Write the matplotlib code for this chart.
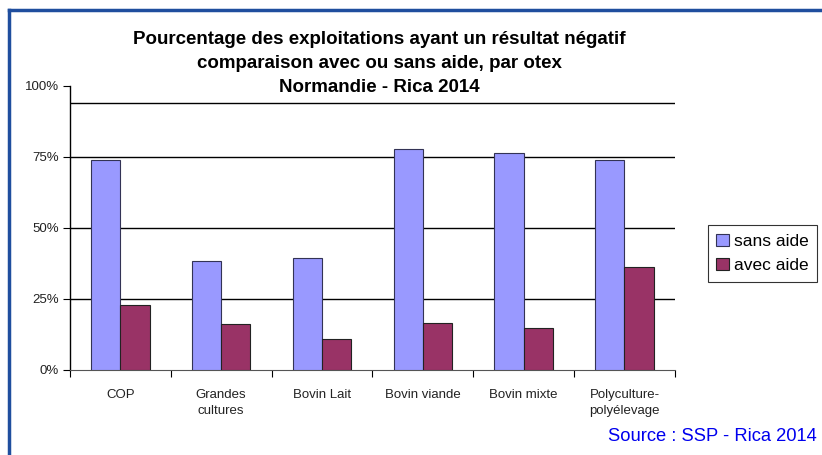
import numpy as np
import matplotlib.pyplot as plt
from matplotlib.ticker import FixedLocator, PercentFormatter
from matplotlib.lines import Line2D

plt.rcParams['font.family'] = ['Liberation Sans', 'DejaVu Sans']

categories = ['COP', 'Grandes\ncultures', 'Bovin Lait', 'Bovin viande',
              'Bovin mixte', 'Polyculture-\npolyélevage']
sans_aide = [0.739, 0.384, 0.394, 0.778, 0.764, 0.741]
avec_aide = [0.229, 0.162, 0.110, 0.165, 0.148, 0.362]

fig = plt.figure(figsize=(8.22, 4.55), dpi=100)
ax = fig.add_axes([0.085, 0.187, 0.736, 0.624])

x = np.arange(len(categories))
w = 0.29
ax.bar(x - w / 2, sans_aide, w, color='#9999FF', edgecolor='#333355',
       linewidth=0.8, label='sans aide', zorder=3)
ax.bar(x + w / 2, avec_aide, w, color='#993366', edgecolor='#222222',
       linewidth=0.8, label='avec aide', zorder=3)

ax.set_xlim(-0.5, len(categories) - 0.5)
ax.set_ylim(0, 1)
ax.yaxis.set_major_locator(FixedLocator([0, 0.25, 0.5, 0.75, 1.0]))
ax.yaxis.set_major_formatter(PercentFormatter(1.0, decimals=0))
for v in [0.25, 0.5, 0.75, 0.94]:
    ax.axhline(v, color='black', linewidth=1, zorder=1)

ax.set_xticks(x)
ax.set_xticklabels(categories, fontsize=9.5, color='#222222', linespacing=1.45)
ax.set_xticks(np.arange(len(categories) + 1) - 0.5, minor=True)
ax.tick_params(axis='x', which='major', length=0, pad=14)
ax.tick_params(axis='x', which='minor', length=5, direction='out', width=0.8)
ax.tick_params(axis='y', length=5, direction='out', width=0.8, labelsize=9.5,
               pad=3, labelcolor='#222222')

ax.spines['top'].set_visible(False)
ax.spines['right'].set_visible(False)
ax.spines['left'].set_linewidth(1)
ax.spines['bottom'].set_color('#555555')

fig.text(0.462, 0.86, 'Pourcentage des exploitations ayant un résultat négatif\n'
         'comparaison avec ou sans aide, par otex\nNormandie - Rica 2014',
         ha='center', va='center', fontsize=13.5, fontweight='bold',
         linespacing=1.55)

leg = ax.legend(loc='center left', bbox_to_anchor=(1.04, 0.41), fontsize=12.5,
                frameon=True, fancybox=False, edgecolor='black',
                handlelength=0.7, handleheight=0.7, handletextpad=0.3,
                borderpad=0.5, labelspacing=0.5)
leg.get_frame().set_linewidth(0.8)

fig.text(0.994, 0.04, 'Source : SSP - Rica 2014', ha='right', va='center',
         fontsize=13.2, color='#0000EE')

# blue frame around the chart
fig.add_artist(Line2D([0.011, 0.011], [0.0, 0.978], transform=fig.transFigure,
                      color='#1F4E9E', linewidth=2.5))
fig.add_artist(Line2D([0.011, 1.0], [0.978, 0.978], transform=fig.transFigure,
                      color='#1F4E9E', linewidth=2.5))

fig.savefig('out.png', dpi=100)
